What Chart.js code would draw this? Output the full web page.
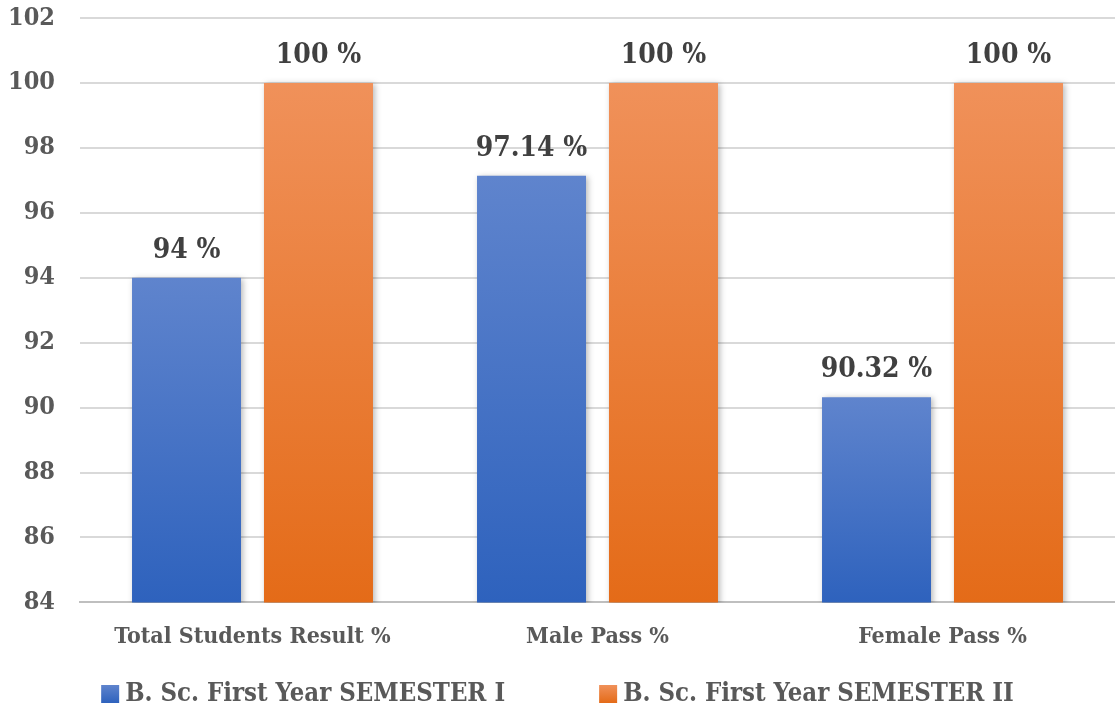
<!DOCTYPE html>
<html>
<head>
<meta charset="utf-8">
<script src="https://cdn.jsdelivr.net/npm/chart.js@4/dist/chart.umd.min.js"></script>
<style>
  html, body { margin: 0; padding: 0; background: #ffffff; }
  #wrap { width: 1115px; height: 712px; position: relative; }
</style>
</head>
<body>
<div id="wrap"><canvas id="c" width="1115" height="712"></canvas></div>
<script>
const categories = ['Total Students Result %', 'Male Pass %', 'Female Pass %'];
const seriesNames = ['B. Sc. First Year SEMESTER I', 'B. Sc. First Year SEMESTER II'];
const semester1 = [94, 97.14, 90.32];
const semester2 = [100, 100, 100];
const valueLabels1 = ['94 %', '97.14 %', '90.32 %'];
const valueLabels2 = ['100 %', '100 %', '100 %'];
const yTicks = [84, 86, 88, 90, 92, 94, 96, 98, 100, 102];

const FONT = '"DejaVu Serif Condensed", "DejaVu Serif", serif';
const palettes = [
  { top: '#5f84cd', bottom: '#2e62bd' },
  { top: '#f0915a', bottom: '#e46b18' }
];

function barGradient(dsIndex) {
  return function (ctx) {
    const chart = ctx.chart;
    const ys = chart.scales && chart.scales.y;
    const p = palettes[dsIndex];
    if (!chart.chartArea || !ys || ctx.type !== 'data') return p.bottom;
    const top = ys.getPixelForValue(ctx.raw);
    const bottom = ys.getPixelForValue(ys.min);
    const g = chart.ctx.createLinearGradient(0, top, 0, bottom);
    g.addColorStop(0, p.top);
    g.addColorStop(1, p.bottom);
    return g;
  };
}

const shadowPlugin = {
  id: 'barShadow',
  beforeDatasetsDraw(chart) {
    const c = chart.ctx;
    c.save();
    c.shadowColor = 'rgba(0,0,0,0.28)';
    c.shadowBlur = 6;
    c.shadowOffsetX = 2;
    c.shadowOffsetY = 1;
  },
  afterDatasetsDraw(chart) {
    chart.ctx.restore();
  }
};

const valueLabelPlugin = {
  id: 'valueLabels',
  afterDatasetsDraw(chart) {
    const c = chart.ctx;
    const labelSets = [valueLabels1, valueLabels2];
    c.save();
    c.font = 'bold 28px ' + FONT;
    c.fillStyle = '#404040';
    c.textAlign = 'center';
    c.textBaseline = 'middle';
    chart.data.datasets.forEach((ds, di) => {
      const meta = chart.getDatasetMeta(di);
      meta.data.forEach((bar, i) => {
        c.fillText(labelSets[di][i], bar.x, bar.y - 27);
      });
    });
    c.restore();
  }
};

const legendPlugin = {
  id: 'customLegend',
  afterDraw(chart) {
    const c = chart.ctx;
    c.save();
    c.font = 'bold 25.5px ' + FONT;
    c.textBaseline = 'middle';
    c.textAlign = 'left';
    const box = 18, gapText = 6, gapItem = 94;
    const widths = chart.data.datasets.map(ds => c.measureText(ds.label).width);
    let total = 0;
    widths.forEach((w, i) => { total += box + gapText + w + (i < widths.length - 1 ? gapItem : 0); });
    let x = (chart.width - total) / 2;
    const y = 694;
    chart.data.datasets.forEach((ds, i) => {
      const p = palettes[i];
      const g = c.createLinearGradient(0, y - box / 2, 0, y + box / 2);
      g.addColorStop(0, p.top);
      g.addColorStop(1, p.bottom);
      c.fillStyle = g;
      c.fillRect(x, y - box / 2, box, box);
      c.fillStyle = '#595959';
      c.fillText(ds.label, x + box + gapText, y);
      x += box + gapText + widths[i] + gapItem;
    });
    c.restore();
  }
};

new Chart(document.getElementById('c'), {
  type: 'bar',
  data: {
    labels: categories,
    datasets: [
      { label: seriesNames[0], data: semester1, backgroundColor: barGradient(0), borderWidth: 0 },
      { label: seriesNames[1], data: semester2, backgroundColor: barGradient(1), borderWidth: 0 }
    ]
  },
  options: {
    responsive: false,
    animation: false,
    devicePixelRatio: 1,
    categoryPercentage: 0.765,
    barPercentage: 0.826,
    layout: { padding: { top: 18, right: 0, bottom: 48, left: 0 } },
    plugins: {
      legend: { display: false },
      tooltip: { enabled: false }
    },
    scales: {
      x: {
        grid: { display: false },
        border: { display: true, color: '#bfbfbf', width: 2 },
        ticks: {
          color: '#595959',
          font: { family: FONT, size: 23, weight: 'bold' },
          padding: 13,
          maxRotation: 0
        }
      },
      y: {
        min: 84,
        max: 102,
        afterBuildTicks(scale) { scale.ticks = yTicks.map(v => ({ value: v })); },
        afterFit(scale) { scale.width = 80; scale.paddingTop = 0; scale.paddingBottom = 0; },
        grid: { color: '#d9d9d9', lineWidth: 2, drawTicks: false },
        border: { display: false },
        ticks: {
          color: '#595959',
          font: { family: FONT, size: 25, weight: 'bold' },
          padding: 25
        }
      }
    }
  },
  plugins: [shadowPlugin, valueLabelPlugin, legendPlugin]
});
</script>
</body>
</html>
